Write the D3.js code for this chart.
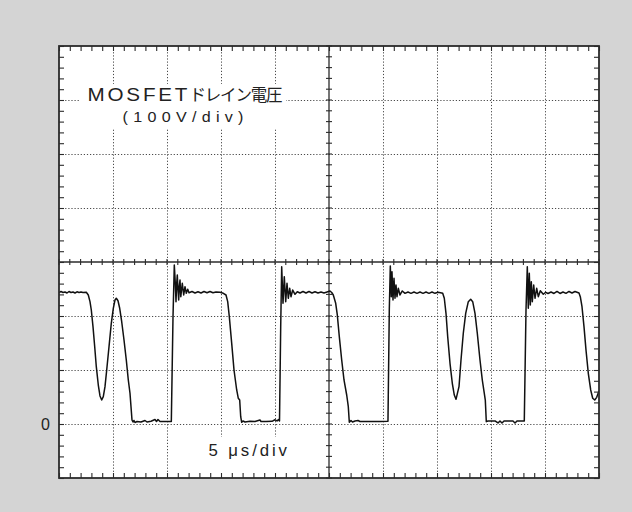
<!DOCTYPE html>
<html><head><meta charset="utf-8">
<script src="https://cdn.jsdelivr.net/npm/d3@7"></script>
<style>body{margin:0;background:#d4d4d4;overflow:hidden}svg{display:block}</style>
</head><body><svg id="c" width="632" height="512"></svg>
<script>
// Time in microseconds (5 µs/div, 10 divisions)
const timeUs = [
0,0.185,0.37,0.556,0.741,0.926,1.111,1.296,1.481,1.667,1.852,2.037,2.222,2.528,
2.713,2.870,2.991,3.148,3.306,3.454,3.639,3.796,3.954,4.102,4.259,4.417,4.630,4.843,5.028,5.185,5.306,5.463,5.620,5.806,6.019,6.231,6.417,6.574,6.667,6.759,6.852,
6.944,7.037,7.222,7.593,7.963,8.148,8.519,8.889,9.028,9.167,9.352,9.815,10.40,
10.556,10.676,10.769,10.833,10.898,10.954,11.019,11.083,11.139,11.204,11.278,11.417,11.546,11.667,11.787,11.917,12.037,
12.315,12.593,12.870,13.148,13.426,13.704,13.981,14.259,14.537,14.907,15.213,
15.463,15.620,15.769,15.991,16.204,16.454,16.602,16.731,16.824,16.917,
17.037,17.222,17.685,18.148,18.611,18.704,19.167,19.722,20.0,20.185,20.324,20.417,
20.528,20.620,20.741,20.861,20.991,21.111,21.231,21.361,21.481,21.639,21.852,22.065,
22.315,22.593,22.870,23.148,23.426,23.704,23.981,24.259,24.537,24.815,25.093,25.250,
25.398,25.620,25.769,25.954,26.176,26.389,26.639,26.787,26.880,
27.037,27.176,27.407,27.685,27.870,28.796,29.722,30.46,
30.583,30.676,30.769,30.833,30.926,31.019,31.111,31.204,31.296,31.417,31.574,31.787,32.037,
32.315,32.593,32.870,33.148,33.426,33.704,33.981,34.259,34.537,34.815,35.093,35.435,
35.528,35.676,35.833,35.991,36.204,36.417,36.602,36.759,37.037,37.222,37.435,37.657,37.898,38.120,38.306,38.519,38.731,38.981,39.194,39.380,39.472,39.565,
39.722,40.370,40.648,40.833,41.019,41.204,42.037,42.222,42.407,43.083,
43.241,43.361,43.454,43.546,43.639,43.731,43.824,43.954,44.074,44.231,44.380,44.565,44.843,45.065,
45.278,45.556,45.833,46.111,46.389,46.667,46.944,47.222,47.500,47.778,48.148,
48.269,48.426,48.611,48.796,49.009,49.231,49.417,49.602,49.787,49.972,50.0
];
// Drain voltage in volts (100 V/div)
const drainV = [
243.5,245.4,243.5,244.4,242.6,245.4,243.5,244.4,242.6,244.8,243.5,244.4,243.5,243.9,
238.9,226.5,211.1,180.2,143.1,106.1,72.2,51.9,44.4,50.6,69.1,100,143.1,186.5,214.3,229.6,232.8,228.3,214.3,189.4,155.6,118.5,81.5,56.9,32.0,7.4,3.7,
6.5,2.8,4.6,3.7,6.5,3.7,5.0,8.3,4.6,8.3,4.6,4.6,4.6,
198.7,294.4,260.6,226.5,260.6,275.9,248.1,229.6,254.3,266.7,235.7,260.6,238.9,254.3,242.0,249.4,243.1,
245.4,242.6,244.8,242.6,245.4,243.0,245.4,243.0,244.4,243.9,242.0,
238.9,226.5,198.7,149.4,100.0,63.0,47.6,44.4,13.5,3.1,
5.6,3.7,5.0,4.6,7.4,4.6,4.6,5.0,7.8,5.6,8.3,5.6,
180.2,291.3,223.5,272.8,226.5,260.6,232.8,251.3,235.7,248.1,240.2,245.0,
242.6,245.4,242.6,245.4,242.6,244.8,242.6,244.4,242.6,244.4,246.3,243.5,
238.9,223.5,201.9,161.7,118.5,81.5,53.7,32.0,3.1,
6.5,3.7,5.6,6.5,4.6,4.6,4.6,5.0,
211.1,292.6,235.7,282.0,229.6,269.8,232.8,257.4,235.7,251.3,238.9,246.3,242.0,
244.4,242.0,244.4,242.0,244.4,242.0,244.4,242.0,244.4,242.0,243.9,242.6,
242.0,232.8,205.0,161.7,112.4,75.4,53.7,45.7,69.1,118.5,168.0,205.0,226.5,230.9,226.5,205.0,168.0,118.5,81.5,56.9,44.4,4.3,
5.6,5.6,1.9,5.6,1.9,5.6,5.6,1.9,5.6,5.6,
211.1,291.3,214.3,279.1,220.4,263.5,226.5,257.4,232.8,251.3,235.7,246.9,240.2,243.9,
241.7,244.4,241.7,245.4,241.7,244.4,242.0,245.4,242.6,245.4,242.6,
235.7,217.2,180.2,137.0,93.9,63.0,47.6,44.4,49.4,59.8,61.0
];
const xDivTicks = [0,5,10,15,20,25,30,35,40,45,50];
const yDivTicks = [-100,0,100,200,300,400,500,600,700];
const zeroLabel = "0";
const titleLatin = "MOSFET";
const titleJa = "ドレイン電圧";
const scaleLabel = "(100V/div)";
const timeLabel = "5 μs/div";

const svg = d3.select("#c");
const W = 632, H = 512;
const L = 59, R = 599, T = 46, B = 478;
const x = d3.scaleLinear().domain([0, 50]).range([L, R]);
const y = d3.scaleLinear().domain([-100, 700]).range([B, T]);
const ink = "#2b2b2b";

svg.append("rect").attr("width", W).attr("height", H).attr("fill", "#d4d4d4");
svg.append("rect").attr("x", L).attr("y", T).attr("width", R - L).attr("height", B - T).attr("fill", "#fff");

// dotted grid
const grid = svg.append("g").attr("stroke", "#4a4a4a").attr("stroke-width", 1).attr("stroke-dasharray", "1.2,1.9");
grid.selectAll(".gv").data(xDivTicks.filter(t => t > 0 && t < 50 && t !== 25)).join("line")
  .attr("x1", d => Math.round(x(d)) + 0.5).attr("x2", d => Math.round(x(d)) + 0.5).attr("y1", T).attr("y2", B);
grid.selectAll(".gh").data(yDivTicks.filter(v => v > -100 && v < 700 && v !== 300)).join("line")
  .attr("y1", d => Math.round(y(d)) + 0.5).attr("y2", d => Math.round(y(d)) + 0.5).attr("x1", L).attr("x2", R);

// white label boxes
svg.append("rect").attr("x", 80).attr("y", 84).attr("width", 206).attr("height", 44).attr("fill", "#fff");
svg.append("rect").attr("x", 200).attr("y", 437).attr("width", 96).attr("height", 37).attr("fill", "#fff");

// centre axes
svg.append("line").attr("x1", L).attr("x2", R).attr("y1", y(300)).attr("y2", y(300)).attr("stroke", ink).attr("stroke-width", 1.3);
svg.append("line").attr("y1", T).attr("y2", B).attr("x1", x(25)).attr("x2", x(25)).attr("stroke", ink).attr("stroke-width", 1.3);

const minorT = d3.range(0, 50.001, 1);
const minorV = d3.range(-100, 700.001, 20);
const tk = svg.append("g").attr("stroke", ink).attr("stroke-width", 1.1);
tk.selectAll(".ch").data(minorT).join("line")
  .attr("x1", d => x(d)).attr("x2", d => x(d)).attr("y1", y(300) - 3).attr("y2", y(300) + 3);
tk.selectAll(".cv").data(minorV).join("line")
  .attr("y1", d => y(d)).attr("y2", d => y(d)).attr("x1", x(25) - 3).attr("x2", x(25) + 3);

// border ticks via axes (pointing inward)
function clean(g) { g.select(".domain").remove(); g.selectAll(".tick line").attr("stroke", ink).attr("stroke-width", 1.1); }
svg.append("g").attr("transform", `translate(0,${T})`).call(d3.axisTop(x).tickValues(minorT).tickSize(-5).tickFormat("")).call(clean);
svg.append("g").attr("transform", `translate(0,${B})`).call(d3.axisBottom(x).tickValues(minorT).tickSize(-5).tickFormat("")).call(clean);
svg.append("g").attr("transform", `translate(${L},0)`).call(d3.axisLeft(y).tickValues(minorV).tickSize(-5).tickFormat("")).call(clean);
svg.append("g").attr("transform", `translate(${R},0)`).call(d3.axisRight(y).tickValues(minorV).tickSize(-5).tickFormat("")).call(clean);

// waveform
svg.append("clipPath").attr("id", "clip").append("rect").attr("x", L).attr("y", T).attr("width", R - L).attr("height", B - T);
const line = d3.line().x((d, i) => x(timeUs[i])).y((d, i) => y(drainV[i]));
svg.append("path").datum(drainV).attr("d", line).attr("clip-path", "url(#clip)")
  .attr("fill", "none").attr("stroke", "#111").attr("stroke-width", 1.5).attr("stroke-linejoin", "round");

// frame
svg.append("rect").attr("x", L).attr("y", T).attr("width", R - L).attr("height", B - T)
  .attr("fill", "none").attr("stroke", ink).attr("stroke-width", 1.8);

// texts (latin glyphs are slightly widened like the reference's font)
const latin = "'Liberation Sans', Arial, sans-serif";
function wideText(txt, x0, y0, size, sx, width, family) {
  const g = svg.append("g").attr("transform", `translate(${x0},${y0}) scale(${sx},1)`);
  g.append("text").attr("x", 0).attr("y", 0).attr("font-family", family || latin).attr("font-size", size)
    .attr("fill", "#222").attr("textLength", width / sx).attr("lengthAdjust", "spacing").text(txt);
}
wideText(titleLatin, 87.5, 101, 17.5, 1.18, 100);
wideText(titleJa, 189.5, 101, 16.5, 1, 93, "'Noto Sans CJK JP', sans-serif");
wideText(scaleLabel, 122.5, 122, 14, 1.15, 121);
wideText(timeLabel, 208.5, 456, 16, 1.05, 78.5);
svg.append("text").attr("x", 45.5).attr("y", y(0) + 6).attr("text-anchor", "middle").attr("font-family", latin)
  .attr("font-size", 16).attr("fill", "#222").text(zeroLabel);
</script>
</body></html>
